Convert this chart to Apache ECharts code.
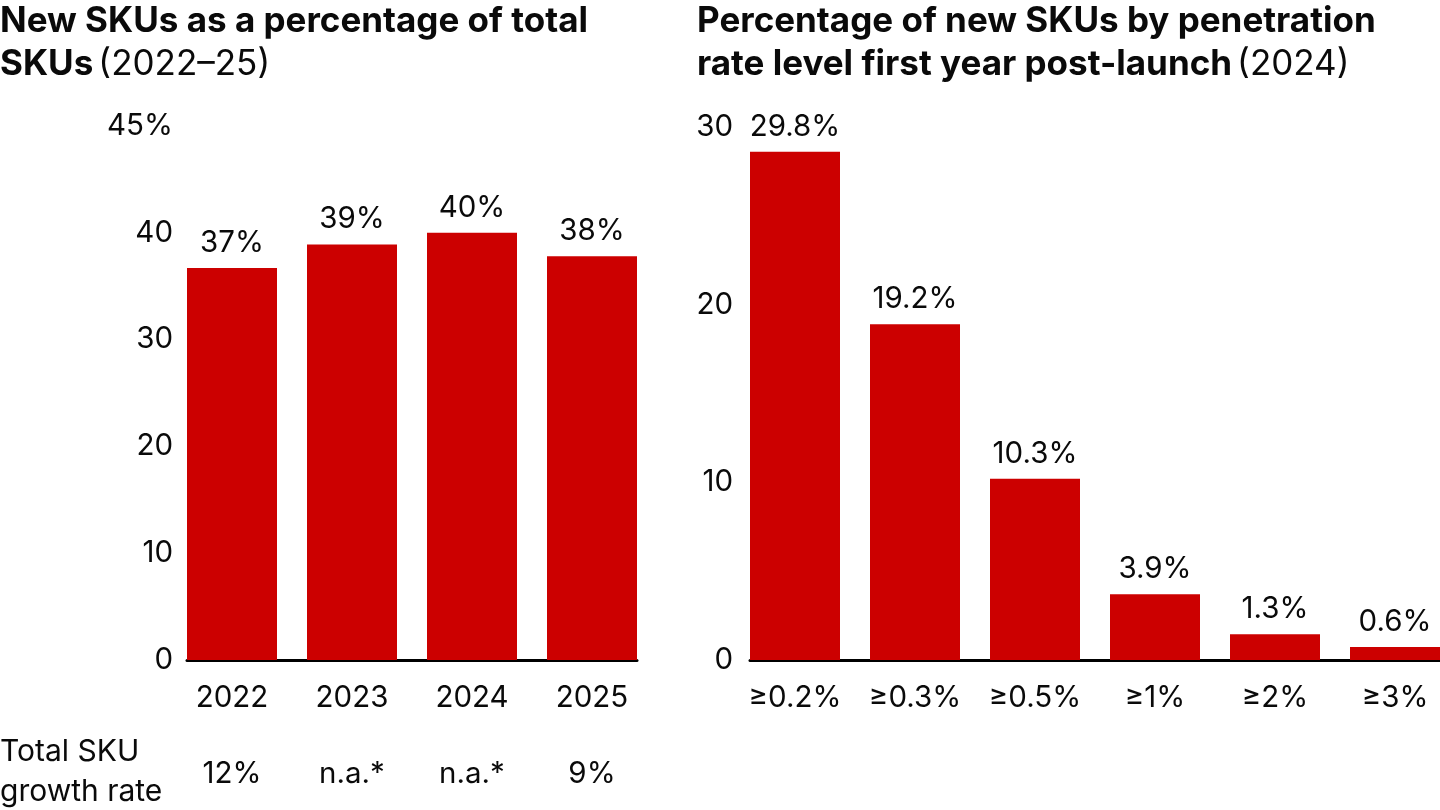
<!DOCTYPE html>
<html lang="en">
<head>
	<meta charset="UTF-8">
	<title>New SKUs</title>
	<script type="text/javascript" src="https://cdn.jsdelivr.net/npm/echarts@6.0.0/dist/echarts.min.js"></script>
	<style>
		html, body { margin: 0; padding: 0; background: #fff; }
		#main { width: 1440px; height: 810px; }
	</style>
</head>
<body>
	<div id="main"></div>
	<script type="text/javascript">
		// left chart: new SKUs share of total
		var years = ['2022', '2023', '2024', '2025'];
		var shareValues = [36.7, 38.9, 40.0, 37.8];
		var shareLabels = ['37%', '39%', '40%', '38%'];
		var growthLabels = ['12%', 'n.a.*', 'n.a.*', '9%'];
		var leftTicks = ['0', '10', '20', '30', '40', '45%'];

		// right chart: penetration rate levels
		var levels = ['≥0.2%', '≥0.3%', '≥0.5%', '≥1%', '≥2%', '≥3%'];
		var levelValues = [28.6, 18.9, 10.2, 3.7, 1.45, 0.73];
		var levelLabels = ['29.8%', '19.2%', '10.3%', '3.9%', '1.3%', '0.6%'];

		var red = '#cc0000';
		var font = 'Inter';
		var txt = '#0a0a0a';
		var fs = 29.5;

		var myChart = echarts.init(document.getElementById('main'));

		function idx(list) {
			var out = [];
			for (var i = 0; i < list.length; i++) out.push(i);
			return out;
		}
		function pairs(vals) {
			return vals.map(function (v, i) { return [i, v]; });
		}

		var titleRich = {
			b: { fontFamily: font, fontWeight: 'bold', fontSize: 35, lineHeight: 43, color: txt },
			r: { fontFamily: font, fontWeight: 'normal', fontSize: 35, lineHeight: 43, color: txt }
		};

		var option = {
			animation: false,
			textStyle: { fontFamily: font, color: txt },
			title: [{
				left: 0, top: 0, padding: 0,
				text: '{b|New SKUs as a percentage of total}\n{b|SKUs} {r|(2022–25)}',
				textStyle: { fontWeight: 'normal', rich: titleRich }
			}, {
				left: 697, top: 0, padding: 0,
				text: '{b|Percentage of new SKUs by penetration}\n{b|rate level first year post-launch} {r|(2024)}',
				textStyle: { fontWeight: 'normal', rich: titleRich }
			}, {
				left: 0, top: 732, padding: 0,
				text: 'Total SKU\ngrowth rate',
				textStyle: { fontFamily: font, fontWeight: 'normal', fontSize: 30, lineHeight: 40, color: txt }
			}],
			grid: [
				{ left: 187, width: 450, top: 126, bottom: 150 },
				{ left: 750, right: 0, top: 127, bottom: 150 }
			],
			xAxis: [{
				type: 'value', gridIndex: 0,
				min: -0.375, max: years.length - 0.625,
				splitLine: { show: false },
				axisTick: { show: false },
				axisLine: { show: true, lineStyle: { color: '#000', width: 3 } },
				axisLabel: {
					customValues: idx(years),
					formatter: function (v) { return years[Math.round(v)]; },
					fontFamily: font, fontSize: fs, color: txt, margin: 23
				}
			}, {
				type: 'value', gridIndex: 0, position: 'bottom',
				min: -0.375, max: years.length - 0.625,
				splitLine: { show: false },
				axisTick: { show: false },
				axisLine: { show: false },
				axisLabel: {
					customValues: idx(growthLabels),
					formatter: function (v) { return growthLabels[Math.round(v)]; },
					fontFamily: font, fontSize: fs, color: txt, margin: 99
				}
			}, {
				type: 'value', gridIndex: 1,
				min: -0.375, max: levels.length - 0.625,
				splitLine: { show: false },
				axisTick: { show: false },
				axisLine: { show: true, lineStyle: { color: '#000', width: 3 } },
				axisLabel: {
					customValues: idx(levels),
					formatter: function (v) { return levels[Math.round(v)]; },
					fontFamily: font, fontSize: fs, color: txt, margin: 23
				}
			}],
			yAxis: [{
				type: 'value', gridIndex: 0,
				min: 0, max: 50, interval: 10,
				splitLine: { show: false },
				axisTick: { show: false },
				axisLine: { show: false },
				axisLabel: {
					formatter: function (v) { return leftTicks[v / 10]; },
					fontFamily: font, fontSize: fs, color: txt, margin: 14
				}
			}, {
				type: 'value', gridIndex: 1,
				min: 0, max: 30, interval: 10,
				splitLine: { show: false },
				axisTick: { show: false },
				axisLine: { show: false },
				axisLabel: {
					fontFamily: font, fontSize: fs, color: txt, margin: 17
				}
			}],
			series: [{
				type: 'bar', xAxisIndex: 0, yAxisIndex: 0,
				barWidth: 90,
				data: pairs(shareValues),
				itemStyle: { color: red },
				label: {
					show: true, position: 'top', distance: 10,
					formatter: function (p) { return shareLabels[p.dataIndex]; },
					fontFamily: font, fontSize: fs, color: txt
				}
			}, {
				type: 'bar', xAxisIndex: 2, yAxisIndex: 1,
				barWidth: 90,
				data: pairs(levelValues),
				itemStyle: { color: red },
				label: {
					show: true, position: 'top', distance: 10,
					formatter: function (p) { return levelLabels[p.dataIndex]; },
					fontFamily: font, fontSize: fs, color: txt
				}
			}]
		};
		myChart.setOption(option);
	</script>
</body>
</html>
